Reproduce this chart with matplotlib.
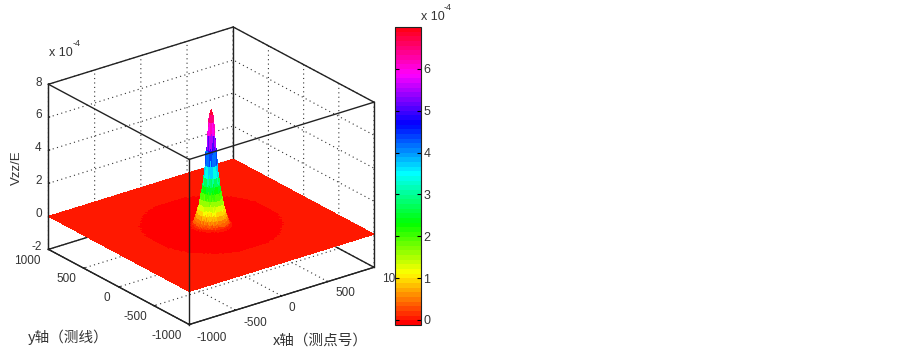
import numpy as np
import matplotlib
matplotlib.use('Agg')
import matplotlib.pyplot as plt
from matplotlib.cm import ScalarMappable
from matplotlib.colors import Normalize
from matplotlib.ticker import NullFormatter

plt.rcParams['font.family'] = ['Liberation Sans', 'Noto Sans CJK SC', 'DejaVu Sans']
plt.rcParams['axes.unicode_minus'] = False

# Values (Vzz/E in units of 1e-4)
ring_step = 10
peak_rings = [7.0, 6.75, 6.3, 5.5, 4.6, 3.7, 3.0, 2.5, 2.1, 1.7, 1.4, 1.1, 0.85, 0.6, 0.4, 0.25, 0.12, 0.05, 0.0]
inner_level = -0.1
outer_level = 0.0
inner_radius = 600
axis_ticks = [-1000, -500, 0, 500, 1000]
z_ticks = [-2, 0, 2, 4, 6, 8]
cbar_ticks = [0, 1, 2, 3, 4, 5, 6]
cbar_range = [-0.12, 7.0]
xlabel = 'x轴（测点号）'
ylabel = 'y轴（测线）'
zlabel = 'Vzz/E'

# Pixel places of the axis texts, as seen in the picture
x_tick_px = [(212, 338), (255, 322.5), (292, 308), (345, 293), (395, 279)]
y_tick_px = [(167, 336), (135, 317), (107, 298), (66, 279), (27, 261)]
z_tick_px = [(41.7, 247), (41.7, 214), (41.7, 181), (41.7, 148), (41.7, 115), (41.7, 82.7)]

W, H = 902, 350
fig = plt.figure(figsize=(W / 100, H / 100), dpi=100, facecolor='white')
TC = '#333333'

S = 350
ax = fig.add_axes([31.5 / W, -5.5 / H, S / W, S / H], projection='3d', computed_zorder=False)
ax.set_proj_type('ortho')
ax.view_init(elev=24, azim=-127.3)
ax.set_xlim(-1000, 1000, view_margin=0)
ax.set_ylim(-1000, 1000, view_margin=0)
ax.set_zlim(-2, 8, view_margin=0)
ax.set_box_aspect((1, 1, 0.778), zoom=1.04)
ax.patch.set_alpha(0)

coarse = np.arange(-1000, 1001, 25)
fine = np.arange(-200, 201, ring_step)
grid = np.union1d(coarse[np.abs(coarse) > 200], fine)
X, Y = np.meshgrid(grid, grid)
R = np.hypot(X, Y)
idx = np.rint(R / ring_step).astype(int)
Z = np.where(R < inner_radius, inner_level, outer_level)
mask = idx < len(peak_rings)
Z[mask] = np.array(peak_rings)[idx[mask]]

cmap = plt.get_cmap('hsv', 64)
norm = Normalize(*cbar_range)
ax.plot_surface(X, Y, Z, cmap=cmap, norm=norm, rstride=1, cstride=1,
                shade=False, linewidth=0, antialiased=False, zorder=2)

xa, xb = -1000, 1000
za, zb = -2, 8
back = [((xb, xb), (xb, xb), (za, zb)), ((xa, xb), (xb, xb), (za, za)), ((xb, xb), (xa, xb), (za, za))]
front = [((xa, xa), (xa, xa), (za, zb)),
         ((xa, xb), (xa, xa), (zb, zb)), ((xa, xa), (xa, xb), (zb, zb)),
         ((xa, xb), (xb, xb), (zb, zb)), ((xb, xb), (xa, xb), (zb, zb)),
         ((xb, xb), (xa, xa), (za, zb)), ((xa, xa), (xb, xb), (za, zb)),
         ((xa, xb), (xa, xa), (za, za)), ((xa, xa), (xa, xb), (za, za))]
for ex, ey, ez in back:
    ax.plot(ex, ey, ez, color='#222222', lw=1.0, zorder=1)
for ex, ey, ez in front:
    ax.plot(ex, ey, ez, color='#222222', lw=1.0, zorder=3)

ax.set_xticks(axis_ticks)
ax.set_yticks(axis_ticks)
ax.set_zticks(z_ticks)
for axis in (ax.xaxis, ax.yaxis, ax.zaxis):
    axis.set_major_formatter(NullFormatter())
    axis.set_pane_color((1, 1, 1, 0))
    axis.pane.set_edgecolor((1, 1, 1, 0))
    axis.line.set_color('#222222')
    axis._axinfo['grid'].update(color='#333333', linewidth=0.8, linestyle=(0, (1, 3)))
    axis._axinfo['tick'].update(inward_factor=0.0, outward_factor=0.08)

def put(px, py, s, **kw):
    ax.text2D(px / W, 1 - py / H, s, transform=fig.transFigure, color=TC, va='center', clip_on=False, **kw)

for v, (px, py) in zip(axis_ticks, x_tick_px):
    put(px, py, str(v), fontsize=8.5, ha='center')
for v, (px, py) in zip(axis_ticks, y_tick_px):
    put(px, py, str(v), fontsize=8.5, ha='center')
for v, (px, py) in zip(z_ticks, z_tick_px):
    put(px, py, str(v), fontsize=8.5, ha='right')
put(320.5, 341, xlabel, fontsize=10.5, ha='center', family=['Noto Sans CJK SC', 'DejaVu Sans'])
put(68, 337, ylabel, fontsize=10.5, ha='center', family=['Noto Sans CJK SC', 'DejaVu Sans'])
put(17, 168, zlabel, fontsize=9.5, ha='center', rotation=90)
put(49, 53, 'x 10', fontsize=9, ha='left')
put(73, 43, '-4', fontsize=6.5, ha='left')

cax = fig.add_axes([395 / W, 1 - 325 / H, 25.5 / W, 298 / H])
cb = fig.colorbar(ScalarMappable(norm=norm, cmap=cmap), cax=cax, ticks=cbar_ticks)
cb.ax.tick_params(labelsize=9, labelcolor=TC, direction='in', left=True, right=True, length=3, width=0.8, pad=2)
cb.outline.set_linewidth(0.8)
cb.outline.set_edgecolor('#222222')
fig.text(421 / W, 1 - 17 / H, 'x 10', fontsize=9, color=TC, ha='left', va='center')
fig.text(444 / W, 1 - 7 / H, '-4', fontsize=6.5, color=TC, ha='left', va='center')

fig.savefig('out.png', dpi=100, facecolor='white')
